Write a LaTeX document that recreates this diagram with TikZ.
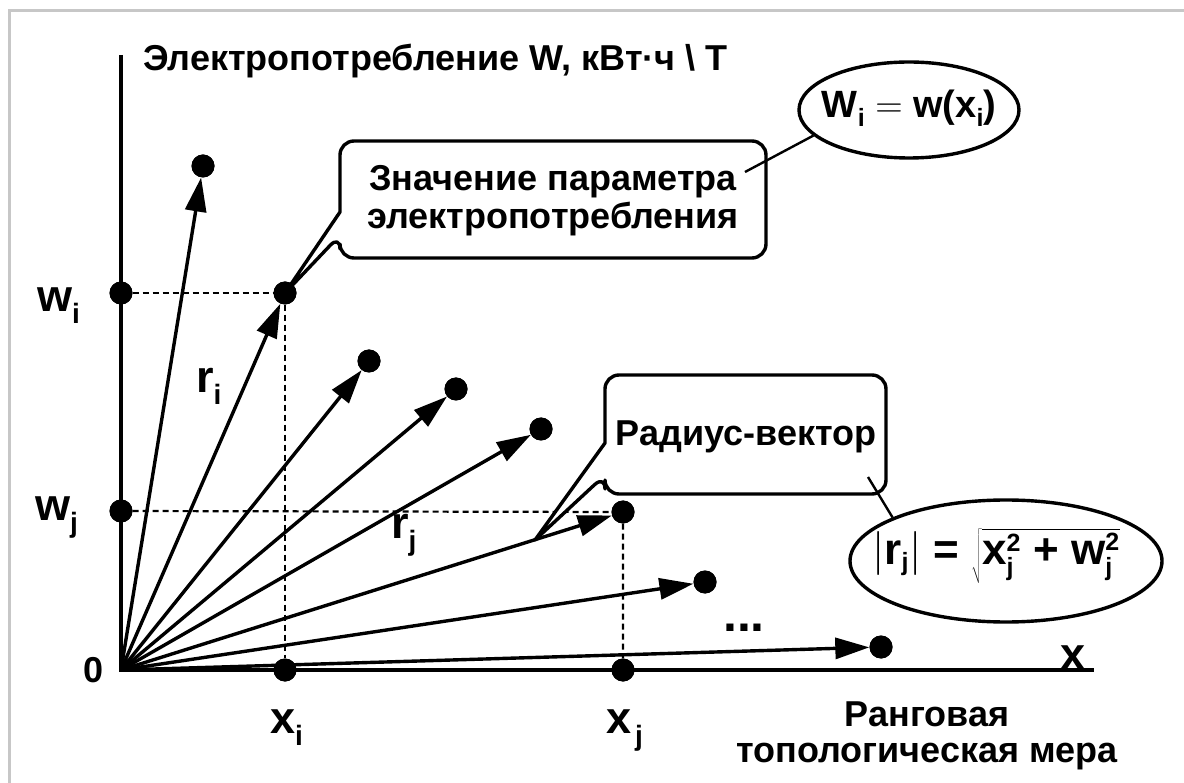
\RequirePackage{fix-cm}
\documentclass[tikz,border=0pt]{standalone}
\usepackage{fontspec}
\setmainfont{Liberation Sans}
\usetikzlibrary{arrows.meta,shapes.geometric}
\newcommand\lsub[1]{\raisebox{-12pt}{\fontsize{28}{28}\selectfont #1}}
\newcommand\esub[1]{\raisebox{-9pt}{\fontsize{25}{25}\selectfont #1}}
\newcommand\fsub{\fontsize{25}{25}\selectfont\bfseries}
\begin{document}
\begin{tikzpicture}[x=1pt,y=-1pt,
  vec/.style={line width=3.4pt,-{Triangle[length=34pt,width=21pt]}},
  dot/.style={circle,fill=black,minimum size=23pt,inner sep=0pt},
  axis/.style={line width=4pt},
  guide/.style={line width=2.2pt,dash pattern=on 6pt off 4pt},
  callout/.style={line width=3.4pt,fill=white,line join=round},
  link/.style={line width=2.4pt},
  txt/.style={font=\fontsize{36}{41}\selectfont\bfseries,inner sep=0pt},
  lab/.style={font=\fontsize{45}{50}\selectfont\bfseries,inner sep=0pt},
  bub/.style={ellipse,draw,line width=3.4pt,inner sep=0pt,fill=white}]
\useasboundingbox (0,0) rectangle (1184,783);
\draw[black!22,line width=3pt] (9,783) -- (9,11) -- (1184,11);
% points
\coordinate (O) at (121,670);
\coordinate (ytop) at (121,55);
\coordinate (xend) at (1094,670);
\node[dot] (p1) at (203,166) {};
\node[dot] (pi) at (285,293) {};
\node[dot] (p3) at (369,361) {};
\node[dot] (p4) at (456,389) {};
\node[dot] (p5) at (541,429) {};
\node[dot] (pj) at (623,512) {};
\node[dot] (p7) at (705,582) {};
\node[dot] (p8) at (881,647) {};
\node[dot] (wi) at (121,293) {};
\node[dot] (wj) at (121,511) {};
\node[dot] (xi) at (285,670) {};
\node[dot] (xj) at (623,670) {};
% guides
\draw[guide] (wi) -- (pi) -- (xi);
\draw[guide] (wj) -- (pj) -- (xj);
% axes
\draw[axis] (ytop) -- (O) -- (xend);
% vectors
\foreach \p in {p1,pi,p3,p4,p5,pj,p7,p8} \draw[vec] (O) -- (\p);
% callouts
\draw[callout] (340,200) [rounded corners=14pt] -- (340,141) -- (766,141) -- (766,258) -- (340,258) -- (340,235) [sharp corners] -- (pi.center) -- (340,212) -- cycle;
\draw[callout] (605,420) [rounded corners=14pt] -- (605,375) -- (886,375) -- (886,494) -- (605,494) -- (605,475) [sharp corners] -- (535,540) -- (605,443) -- cycle;
\node[txt,align=center] (t1) at (553,201) {Значение параметра\\[-3pt]электропотребления};
\node[txt] (t2) at (746,437) {Радиус-вектор};
% redraw dots on top
\foreach \p in {p1,pi,p3,p4,p5,pj,p7,p8,wi,wj,xi,xj} \fill (\p) circle (11.5pt);
% bubbles
\node[bub,minimum width=220pt,minimum height=96pt] (e1) at (909,110) {};
\node[font=\fontsize{38}{42}\selectfont\bfseries,inner sep=0pt] (f1) at (909,108) {W\esub{i} $=$ w(x\esub{i})};
\node[bub,minimum width=312pt,minimum height=122pt] (e2) at (1006,561) {};
\node[font=\fontsize{44}{48}\selectfont\bfseries,inner sep=0pt] (f2) at (996,556) {$\left|\hbox{r}_{\hbox{\fsub j}}\right|$\hbox{ = }$\sqrt{\hbox{x}^{\hbox{\fsub 2}}_{\hbox{\fsub j}}\hbox{ + w}^{\hbox{\fsub 2}}_{\hbox{\fsub j}}}$};
\coordinate (c1) at (745,172);
\coordinate (c2) at (868,477);
\draw[link] (c1) -- (e1.195);
\draw[link] (c2) -- (e2.159);
% labels
\node[txt,anchor=base west] (title) at (143,71) {Электропотребление W, кВт·ч \textbackslash{} T};
\node[lab,anchor=base west] (lwi) at (37,312) {w\lsub{i}};
\node[lab,anchor=base west] (lwj) at (35,520) {w\lsub{j}};
\node[lab,anchor=base west] (lxi) at (270,733) {x\lsub{i}};
\node[lab,anchor=base west] (lxj) at (606,733) {x\kern4pt\lsub{j}};
\node[lab,anchor=base west] (lri) at (196,393) {r\lsub{i}};
\node[lab,anchor=base west] (lrj) at (391,538) {r\lsub{j}};
\node[lab,anchor=base] (lx) at (1073,669) {x};
\node[txt,anchor=center] (l0) at (94,670) {0};
\node[font=\fontsize{50}{54}\selectfont\bfseries,inner sep=0pt,anchor=base] (dots) at (744,631) {...};
\node[txt,anchor=base] (rank1) at (927,726) {Ранговая};
\node[txt,anchor=base] (rank2) at (927,762) {топологическая мера};
\end{tikzpicture}
\end{document}
